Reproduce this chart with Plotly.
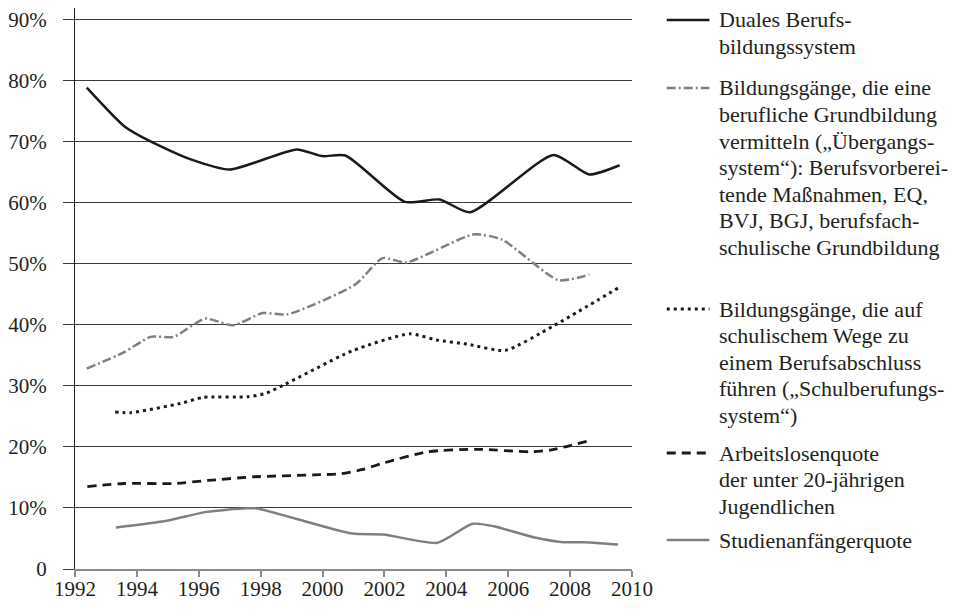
import plotly.graph_objects as go

# ---- data (x = position on the year axis, y = percent) ----
duales_x = [1992.38, 1993.59, 1994.44, 1995.72, 1997.0, 1999.16, 1999.99, 2000.74, 2002.66, 2003.78, 2004.77, 2007.46, 2008.62, 2009.6]
duales_y = [78.8, 72.5, 70.0, 67.1, 65.4, 68.7, 67.6, 67.7, 60.1, 60.5, 58.4, 67.8, 64.6, 66.1]

uebergang_x = [1992.38, 1993.59, 1994.44, 1995.19, 1996.2, 1997.1, 1998.07, 1998.87, 2001.06, 2001.94, 2002.71, 2004.9, 2005.81, 2007.62, 2008.62]
uebergang_y = [32.8, 35.5, 38.0, 38.0, 41.0, 39.9, 41.9, 41.7, 46.6, 50.9, 50.2, 54.8, 53.9, 47.3, 48.2]

schulberuf_x = [1993.3, 1993.8, 1995.4, 1996.15, 1997.59, 1998.18, 2000.95, 2002.82, 2003.68, 2004.69, 2005.9, 2007.46, 2009.58]
schulberuf_y = [25.7, 25.6, 27.1, 28.1, 28.2, 28.8, 35.7, 38.5, 37.5, 36.8, 35.8, 39.8, 46.1]

arbeitslos_x = [1992.4, 1993.6, 1995.2, 1996.3, 1997.8, 1999.7, 2000.6, 2001.3, 2002.0, 2003.4, 2005.0, 2006.7, 2007.4, 2008.6]
arbeitslos_y = [13.5, 14.0, 14.0, 14.5, 15.1, 15.4, 15.6, 16.3, 17.4, 19.2, 19.6, 19.2, 19.5, 21.0]

studien_x = [1993.32, 1994.97, 1996.25, 1997.54, 1997.9, 2000.95, 2001.97, 2003.71, 2004.85, 2005.54, 2006.82, 2007.78, 2008.64, 2009.55]
studien_y = [6.8, 7.9, 9.35, 9.95, 9.9, 5.8, 5.65, 4.3, 7.4, 7.0, 5.2, 4.4, 4.35, 4.0]

legend_lines = [
    ["Duales Berufs-", "bildungssystem"],
    ["Bildungsgänge, die eine", "berufliche Grundbildung", "vermitteln („Übergangs-",
     "system“): Berufsvorberei-", "tende Maßnahmen, EQ,", "BVJ, BGJ, berufsfach-",
     "schulische Grundbildung"],
    ["Bildungsgänge, die auf", "schulischem Wege zu", "einem Berufsabschluss",
     "führen („Schulberufungs-", "system“)"],
    ["Arbeitslosenquote", "der unter 20-jährigen", "Jugendlichen"],
    ["Studienanfängerquote"],
]

x_ticks = [1992, 1994, 1996, 1998, 2000, 2002, 2004, 2006, 2008, 2010]
y_ticks = [0, 10, 20, 30, 40, 50, 60, 70, 80, 90]
y_ticktext = ["0", "10%", "20%", "30%", "40%", "50%", "60%", "70%", "80%", "90%"]

# ---- styling / layout ----
TXT = "#231f20"
GREY = "#808080"
FONT = "Liberation Serif"

W, H = 948, 602                 # page body has an 8px margin in the browser
L, R, T, B = 63, 324, 0, 41
PW, PH = W - L - R, H - T - B
OFF = 8                         # browser body margin


def paper_x(page_x):
    return (page_x - OFF - L) / PW


def paper_y(page_y):
    return (H - B - (page_y - OFF)) / PH


styles = [
    ("#1a1a1a", "solid", 2.5),
    (GREY, "9px,3px,2px,3px", 2.5),
    ("#1a1a1a", "3px,4px", 3),
    ("#1a1a1a", "9px,6px", 2.8),
    (GREY, "solid", 2.5),
]
series = [
    (duales_x, duales_y),
    (uebergang_x, uebergang_y),
    (schulberuf_x, schulberuf_y),
    (arbeitslos_x, arbeitslos_y),
    (studien_x, studien_y),
]

fig = go.Figure()
for (xs, ys), (col, dash, w), lines in zip(series, styles, legend_lines):
    fig.add_trace(go.Scatter(
        x=xs, y=ys, mode="lines", name=" ".join(lines), showlegend=False,
        line=dict(color=col, width=w, dash=dash, shape="spline", smoothing=0.6),
        hoverinfo="skip",
    ))

# ---- hand-set legend (text lines + key samples) ----
entry_first_line = [20, 88, 309, 453, 540]   # page y of each entry's first text line
LINE_STEP = 26.6
TEXT_X = 718
KEY_X0, KEY_X1 = 667, 710

annotations = []
shapes = []
for (col, dash, w), lines, y0 in zip(styles, legend_lines, entry_first_line):
    for j, txt in enumerate(lines):
        annotations.append(dict(
            xref="paper", yref="paper", x=paper_x(TEXT_X), y=paper_y(y0 + j * LINE_STEP),
            xanchor="left", yanchor="middle", text=txt, showarrow=False,
            font=dict(family=FONT, size=22, color=TXT), align="left",
        ))
    shapes.append(dict(
        type="line", xref="paper", yref="paper",
        x0=paper_x(KEY_X0), x1=paper_x(KEY_X1), y0=paper_y(y0), y1=paper_y(y0),
        line=dict(color=col, width=w, dash=dash),
    ))

fig.update_layout(
    width=W, height=H,
    margin=dict(l=L, r=R, t=T, b=B, pad=0),
    paper_bgcolor="white", plot_bgcolor="white",
    font=dict(family=FONT, size=21, color=TXT),
    showlegend=False,
    annotations=annotations,
    shapes=shapes,
    xaxis=dict(
        range=[1992, 2010], tickvals=x_ticks, ticktext=[str(v) for v in x_ticks],
        showgrid=False, zeroline=False,
        showline=True, linecolor="#8a8a8a", linewidth=2,
        ticks="outside", ticklen=6, tickcolor="#8a8a8a", tickwidth=1.5,
        ticklabelstandoff=-6, ticklabeloverflow="allow",
        tickfont=dict(family=FONT, size=21, color=TXT),
    ),
    yaxis=dict(
        range=[0, 91.85], tickvals=y_ticks, ticktext=y_ticktext,
        showgrid=True, gridcolor="#3a3a3a", gridwidth=1,
        zeroline=False,
        showline=True, linecolor=TXT, linewidth=1.3,
        ticks="outside", ticklen=11, tickcolor="#3a3a3a", tickwidth=1,
        ticklabelstandoff=12, ticklabeloverflow="allow",
        tickfont=dict(family=FONT, size=21, color=TXT),
    ),
)

fig.write_html("out.html")
